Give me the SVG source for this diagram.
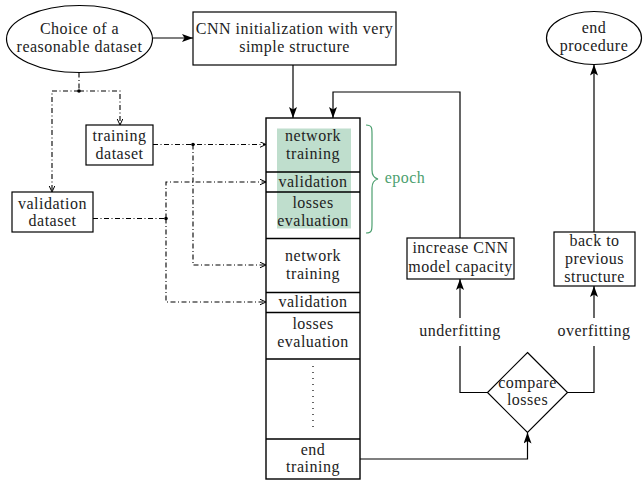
<svg xmlns="http://www.w3.org/2000/svg" width="643" height="481" viewBox="0 0 643 481">
<style>
text{font-family:"Liberation Serif","Times New Roman",serif;font-size:16px;letter-spacing:0.5px;fill:#222;text-anchor:middle}
.box{fill:#fff;stroke:#000;stroke-width:1.2}
.stk{fill:none;stroke:#000;stroke-width:1.4}
.ln{fill:none;stroke:#000;stroke-width:1.2}
.dd{fill:none;stroke:#000;stroke-width:1.1;stroke-dasharray:5 2.5 1 2.5}
</style>
<defs>
<marker id="ah" markerUnits="userSpaceOnUse" markerWidth="12" markerHeight="10" refX="11" refY="4" orient="auto">
<path d="M0,0 L11,4 L0,8 L2.5,4 z" fill="#000"/>
</marker>
<marker id="oh" markerUnits="userSpaceOnUse" markerWidth="8" markerHeight="8" refX="6.5" refY="3" orient="auto">
<path d="M0,0 L6.5,3 L0,6" fill="none" stroke="#000" stroke-width="1"/>
</marker>
</defs>

<g id="choice">
<ellipse class="box" cx="79.5" cy="39" rx="73" ry="33.5"/>
<text x="79.5" y="34">Choice of a</text>
<text x="79.5" y="52">reasonable dataset</text>
</g>
<g id="cnninit">
<rect class="box" x="193" y="12" width="203" height="53"/>
<text x="294.5" y="34">CNN initialization with very</text>
<text x="294.5" y="52">simple structure</text>
</g>
<g id="trainset">
<rect class="box" x="86" y="125" width="67" height="40"/>
<text x="119.5" y="141">training</text>
<text x="119.5" y="159">dataset</text>
</g>
<g id="valset">
<rect class="box" x="12" y="192" width="81" height="40"/>
<text x="52.5" y="209">validation</text>
<text x="52.5" y="226">dataset</text>
</g>

<g id="stack">
<rect x="277" y="128.5" width="74" height="100" fill="#bfdecd"/>
<rect class="stk" x="266" y="118" width="94" height="361"/>
<path class="stk" d="M266,172H360M266,192H360M266,238.5H360M266,292.5H360M266,312.5H360M266,359H360M266,439H360"/>
<text x="313" y="141">network</text>
<text x="313" y="159">training</text>
<text x="313" y="187">validation</text>
<text x="313" y="208">losses</text>
<text x="313" y="226">evaluation</text>
<text x="313" y="261">network</text>
<text x="313" y="279">training</text>
<text x="313" y="307">validation</text>
<text x="313" y="329">losses</text>
<text x="313" y="347">evaluation</text>
<path d="M313,366V430" fill="none" stroke="#000" stroke-width="1.2" stroke-dasharray="1 5"/>
<text x="313" y="455">end</text>
<text x="313" y="472">training</text>
</g>

<g id="epoch">
<path d="M366,125 C372,125 372,128 372,134 L372,170 C372,176 374,178 378,179 C374,180 372,182 372,188 L372,224 C372,230 372,233 366,233" fill="none" stroke="#4c9f6f" stroke-width="1.2"/>
<text x="405" y="183" style="fill:#4c9f6f">epoch</text>
</g>

<g id="increase">
<rect class="box" x="407" y="238" width="107" height="41"/>
<text x="460.5" y="253">increase CNN</text>
<text x="460.5" y="272">model capacity</text>
</g>
<g id="backprev">
<rect class="box" x="554" y="232" width="81" height="54"/>
<text x="594.5" y="246">back to</text>
<text x="594.5" y="264">previous</text>
<text x="594.5" y="282">structure</text>
</g>
<g id="endproc">
<ellipse class="box" cx="594" cy="38" rx="47.5" ry="26.5"/>
<text x="594" y="33">end</text>
<text x="594" y="51">procedure</text>
</g>
<g id="compare">
<path class="box" d="M527.5,352.5 L567.5,392.5 L527.5,432.5 L487.5,392.5 z"/>
<text x="527.5" y="388">compare</text>
<text x="527.5" y="405">losses</text>
</g>

<g id="connectors">
<path class="ln" d="M153,38H193" marker-end="url(#ah)"/>
<path class="ln" d="M293,65V118" marker-end="url(#ah)"/>
<path class="ln" d="M460,238V92H333V118" marker-end="url(#ah)"/>
<path class="ln" d="M360,459H527.5V432.5" marker-end="url(#ah)"/>
<path class="ln" d="M487.5,392.5H460V346"/>
<path class="ln" d="M460,318V279" marker-end="url(#ah)"/>
<text x="460" y="336">underfitting</text>
<path class="ln" d="M567.5,392.5H594V346"/>
<path class="ln" d="M594,318V286" marker-end="url(#ah)"/>
<text x="594" y="336">overfitting</text>
<path class="ln" d="M594,232V64.5" marker-end="url(#ah)"/>

<path class="dd" d="M79,72.5V91"/>
<path class="dd" d="M79,91H120V125" marker-end="url(#oh)"/>
<path class="dd" d="M79,91H52V192" marker-end="url(#oh)"/>
<circle cx="79" cy="91" r="1.8" fill="#000"/>
<path class="dd" d="M153,144.5H266" marker-end="url(#oh)"/>
<path class="dd" d="M193,144.5V265H266" marker-end="url(#oh)"/>
<circle cx="193" cy="144.5" r="1.8" fill="#000"/>
<path class="dd" d="M93,218.5H166"/>
<path class="dd" d="M166,218.5V182H266" marker-end="url(#oh)"/>
<path class="dd" d="M166,218.5V302H266" marker-end="url(#oh)"/>
<circle cx="166" cy="218.5" r="1.8" fill="#000"/>
</g>
</svg>
